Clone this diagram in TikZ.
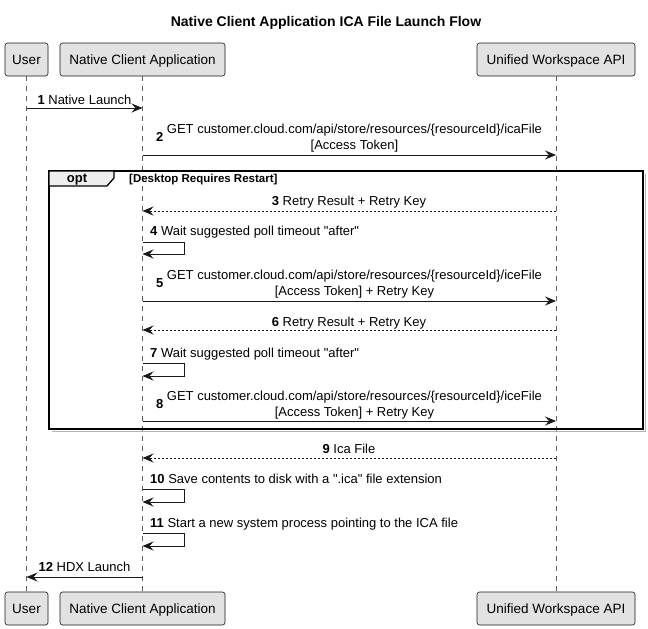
\documentclass[tikz,border=0pt]{standalone}
\usepackage{fontspec}
\setmainfont{Liberation Sans}[Ligatures=TeXOff]
\usetikzlibrary{arrows.meta}
\definecolor{partfill}{HTML}{E2E2E2}
\definecolor{linec}{HTML}{181818}
\definecolor{tabfill}{HTML}{EEEEEE}
\begin{document}
\begin{tikzpicture}[x=1pt,y=-1pt,
  part/.style={draw=linec, fill=partfill, rounded corners=2.5pt, line width=0.6pt,
    minimum height=33pt, inner sep=0pt, font=\fontsize{13.5}{16}\selectfont,
    text height=9.7pt, text depth=0pt},
  life/.style={draw=linec!70, line width=0.5pt, dash pattern=on 5pt off 5pt},
  msg/.style={draw=linec, line width=0.8pt, -{Stealth[length=11pt,width=9pt,inset=4pt]}},
  ret/.style={msg, dash pattern=on 2pt off 2pt},
  lbl/.style={inner sep=0pt, font=\fontsize{13}{16}\selectfont},
  frame/.style={draw=black, line width=1.3pt},
  shadowline/.style={draw=gray!60, line width=1.3pt},
]
\useasboundingbox (0,0) rectangle (648,629);
\fill[white] (0,0) rectangle (648,629);

% title
\node[inner sep=0pt, anchor=base, font=\fontsize{14}{16}\selectfont\bfseries] (title) at (326,27)
  {Native Client Application ICA File Launch Flow};

% participants
\node[part, minimum width=43pt]  (uT) at (26.5,59.5) {User};
\node[part, minimum width=165pt] (nT) at (142.5,59.5) {Native Client Application};
\node[part, minimum width=158pt] (wT) at (556,59.5) {Unified Workspace API};
\node[part, minimum width=43pt]  (uB) at (26.5,608.5) {User};
\node[part, minimum width=165pt] (nB) at (142.5,608.5) {Native Client Application};
\node[part, minimum width=158pt] (wB) at (556,608.5) {Unified Workspace API};

% lifelines
\draw[life] (uT.south) -- (uB.north);
\draw[life] (nT.south) -- (nB.north);
\draw[life] (wT.south) -- (wB.north);

% opt frame
\draw[shadowline] (645.2,173.5) -- (645.2,431.2) -- (51.5,431.2);
\draw[frame] (49,171) rectangle (643,429);
\draw[frame, fill=tabfill] (49,171) -- (114,171) -- (114,178) -- (107,186) -- (49,186) -- cycle;
\node[inner sep=0pt, anchor=base, font=\fontsize{13}{16}\selectfont\bfseries] (optlbl) at (77,182) {opt};
\node[inner sep=0pt, anchor=base west, font=\fontsize{11.5}{14}\selectfont\bfseries] (guard) at (129,182)
  {[Desktop Requires Restart]};

% lifeline coordinates
\coordinate (u1) at (26.5,108);  \coordinate (n1) at (142.5,108);
\coordinate (n2) at (142.5,155); \coordinate (w2) at (556,155);
\coordinate (w3) at (556,211);   \coordinate (n3) at (142.5,211);
\coordinate (n4a) at (142.5,242); \coordinate (n4b) at (142.5,254);
\coordinate (n5) at (142.5,301); \coordinate (w5) at (556,301);
\coordinate (w6) at (556,330);   \coordinate (n6) at (142.5,330);
\coordinate (n7a) at (142.5,363); \coordinate (n7b) at (142.5,376);
\coordinate (n8) at (142.5,421); \coordinate (w8) at (556,421);
\coordinate (w9) at (556,458);   \coordinate (n9) at (142.5,458);
\coordinate (n10a) at (142.5,489); \coordinate (n10b) at (142.5,502);
\coordinate (n11a) at (142.5,533); \coordinate (n11b) at (142.5,546);
\coordinate (n12) at (142.5,577); \coordinate (u12) at (26.5,577);

% messages
\draw[msg] (u1) -- (n1);
\node[lbl, anchor=base] (l1) at (84.5,104.5) {\textbf{1} Native Launch};

\draw[msg] (n2) -- (w2);
\node[lbl] (l2) at (349,138.5) {\textbf{2} \begin{tabular}[c]{@{}c@{}}GET customer.cloud.com/api/store/resources/\{resourceId\}/icaFile\\ {[}Access Token]\end{tabular}};

\draw[ret] (w3) -- (n3);
\node[lbl, anchor=base] (l3) at (349,205.5) {\textbf{3} Retry Result + Retry Key};

\draw[msg] (n4a) -- ++(42,0) |- (n4b);
\node[lbl, anchor=base west] (l4) at (150,235.5) {\textbf{4} Wait suggested poll timeout "after"};

\draw[msg] (n5) -- (w5);
\node[lbl] (l5) at (349,284.5) {\textbf{5} \begin{tabular}[c]{@{}c@{}}GET customer.cloud.com/api/store/resources/\{resourceId\}/iceFile\\ {[}Access Token] + Retry Key\end{tabular}};

\draw[ret] (w6) -- (n6);
\node[lbl, anchor=base] (l6) at (349,326.5) {\textbf{6} Retry Result + Retry Key};

\draw[msg] (n7a) -- ++(42,0) |- (n7b);
\node[lbl, anchor=base west] (l7) at (150,357) {\textbf{7} Wait suggested poll timeout "after"};

\draw[msg] (n8) -- (w8);
\node[lbl] (l8) at (349,405.5) {\textbf{8} \begin{tabular}[c]{@{}c@{}}GET customer.cloud.com/api/store/resources/\{resourceId\}/iceFile\\ {[}Access Token] + Retry Key\end{tabular}};

\draw[ret] (w9) -- (n9);
\node[lbl, anchor=base] (l9) at (349,453.5) {\textbf{9} Ica File};

\draw[msg] (n10a) -- ++(42,0) |- (n10b);
\node[lbl, anchor=base west] (l10) at (150,483.5) {\textbf{10} Save contents to disk with a ".ica" file extension};

\draw[msg] (n11a) -- ++(42,0) |- (n11b);
\node[lbl, anchor=base west] (l11) at (150,527.5) {\textbf{11} Start a new system process pointing to the ICA file};

\draw[msg] (n12) -- (u12);
\node[lbl, anchor=base] (l12) at (84.5,571.5) {\textbf{12} HDX Launch};
\end{tikzpicture}
\end{document}
